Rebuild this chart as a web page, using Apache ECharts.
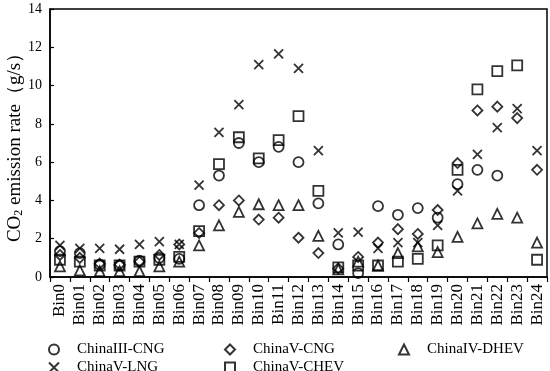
<!DOCTYPE html>
<html>
<head>
<meta charset="utf-8">
<script src="https://cdn.jsdelivr.net/npm/echarts@6/dist/echarts.min.js"></script>
<style>html,body{margin:0;padding:0;background:#fff}#c{width:550px;height:371px}</style>
</head>
<body>
<div id="c"></div>
<script>
const categories = ['Bin0','Bin01','Bin02','Bin03','Bin04','Bin05','Bin06','Bin07','Bin08','Bin09','Bin10','Bin11','Bin12','Bin13','Bin14','Bin15','Bin16','Bin17','Bin18','Bin19','Bin20','Bin21','Bin22','Bin23','Bin24'];
const yTicks = [0,2,4,6,8,10,12,14];
const chinaIII_CNG = [1.35,1.25,0.65,0.6,0.85,1.0,0.95,3.75,5.3,7.0,6.0,6.8,6.0,3.85,1.7,0.2,3.7,3.25,3.6,3.1,4.85,5.6,5.3,null,null];
const chinaV_CNG  = [1.15,1.0,0.7,0.65,0.8,1.15,1.7,2.3,3.75,4.0,3.0,3.1,2.05,1.25,0.45,1.05,1.8,2.5,2.25,3.5,5.95,8.7,8.9,8.3,5.6];
const chinaIV_DHEV = [0.55,0.35,0.3,0.3,0.3,0.55,0.8,1.65,2.7,3.4,3.8,3.75,3.75,2.15,0.4,0.8,0.6,1.25,1.6,1.3,2.1,2.8,3.3,3.1,1.8];
const chinaV_LNG  = [1.65,1.5,1.5,1.45,1.7,1.85,1.7,4.8,7.55,9.0,11.1,11.65,10.9,6.6,2.3,2.35,1.5,1.8,1.8,2.7,4.5,6.4,7.8,8.8,6.6];
const chinaV_CHEV = [0.9,0.8,0.6,0.6,0.8,0.9,1.05,2.4,5.9,7.3,6.2,7.15,8.4,4.5,0.5,0.6,0.6,0.8,0.95,1.65,5.6,9.8,10.75,11.05,0.9];

const names = ['ChinaIII-CNG','ChinaV-CNG','ChinaIV-DHEV','ChinaV-LNG','ChinaV-CHEV'];
const dataSets = [chinaIII_CNG, chinaV_CNG, chinaIV_DHEV, chinaV_LNG, chinaV_CHEV];
const symbols = ['circle','diamond','triangle','path://M0,0L10,10M10,0L0,10','rect'];
const sizes = [10,10,10,9,10];
const serif = '"Liberation Serif","DejaVu Serif",serif';

const series = names.map((n,i)=>({
  name: n,
  type: 'scatter',
  symbol: symbols[i],
  symbolSize: sizes[i],
  symbolKeepAspect: true,
  itemStyle: {color: 'rgba(255,255,255,0)', borderColor: '#000', borderWidth: 1.8},
  data: dataSets[i]
}));

const legendPos = [[48,342],[224,342],[398,342],[48,360],[224,360]];
const legends = names.map((n,i)=>({
  data: [n],
  left: legendPos[i][0],
  top: legendPos[i][1],
  padding: 0,
  itemWidth: 10, itemHeight: 10, itemGap: 0,
  textStyle: {fontFamily: serif, fontSize: 15, color: '#000', padding: [0,0,0,13]},
  selectedMode: false
}));

const chart = echarts.init(document.getElementById('c'));
chart.setOption({
  animation: false,
  backgroundColor: '#fff',
  legend: legends,
  grid: {left: 50, right: 3, top: 9, bottom: 94, outerBoundsMode: 'none', containLabel: false, show: true, borderColor: '#000', borderWidth: 1.5, backgroundColor: 'transparent'},
  xAxis: {
    type: 'category', data: categories, boundaryGap: true,
    axisLine: {lineStyle: {color: '#000', width: 1.5}},
    axisTick: {show: true, inside: false, length: 5, interval: 0, lineStyle: {color: '#000', width: 1.2}},
    axisLabel: {rotate: 90, interval: 0, margin: 7, fontFamily: serif, fontSize: 17, color: '#000'},
    splitLine: {show: false}
  },
  yAxis: {
    type: 'value', min: 0, max: 14, interval: 2,
    name: '{t|CO}{sub|2}{t| emission rate（g/s）}',
    nameLocation: 'middle', nameGap: 25, nameRotate: 90, nameMoveOverlap: false,
    nameTextStyle: {fontFamily: serif, fontSize: 19, color: '#000', rich: {
      t: {fontFamily: serif, fontSize: 19, color: '#000'},
      sub: {fontFamily: serif, fontSize: 12, color: '#000', verticalAlign: 'bottom', padding: [8,0,0,0]}
    }},
    axisLine: {show: true, lineStyle: {color: '#000', width: 1.5}},
    axisTick: {show: true, inside: true, length: 4, lineStyle: {color: '#000', width: 1.2}},
    axisLabel: {margin: 8, fontFamily: serif, fontSize: 14, color: '#000', formatter: v => yTicks.includes(v) ? String(v) : ''},
    splitLine: {show: false}
  },
  series: series
});
</script>
</body>
</html>
